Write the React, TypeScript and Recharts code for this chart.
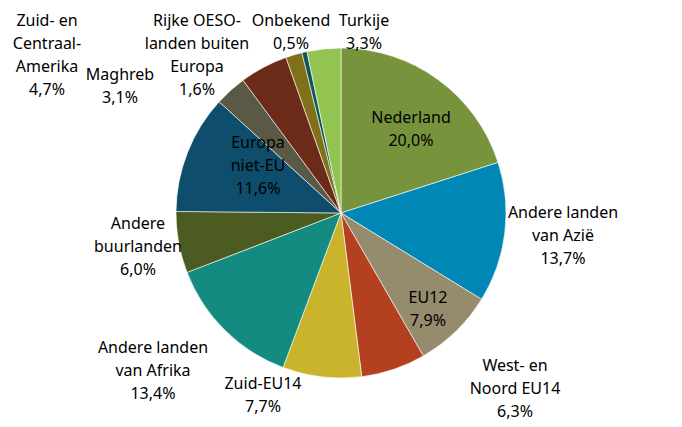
import React from 'react';
import { PieChart, Pie, Cell } from 'recharts';

// Herkomst (share in %), clockwise from the top
const labels = [
    ['Nederland'],
    ['Andere landen', 'van Azië'],
    ['EU12'],
    ['West- en', 'Noord EU14'],
    ['Zuid-EU14'],
    ['Andere landen', 'van Afrika'],
    ['Andere', 'buurlanden'],
    ['Europa', 'niet-EU'],
    ['Maghreb'],
    ['Zuid- en', 'Centraal-', 'Amerika'],
    ['Rijke OESO-', 'landen buiten', 'Europa'],
    ['Onbekend'],
    ['Turkije'],
];
const shares = [20.0, 13.7, 7.9, 6.3, 7.7, 13.4, 6.0, 11.6, 3.1, 4.7, 1.6, 0.5, 3.3];

const COLORS = [
    '#77933c', '#0087b5', '#958b6d', '#b3401f', '#c9b42b', '#148b81', '#4c5b1f',
    '#0e4d6b', '#5a5946', '#6c2a18', '#807017', '#0e5858', '#93c451',
];

// label block centre, relative to the pie centre (baseline of the first line)
const LABEL_POS: [number, number][] = [
    [70, -90], [222, 5], [87, 90], [174, 158], [-78, 176], [-188, 140], [-203, 16],
    [-83, -65], [-221, -133], [-294, -187], [-144, -187], [-50, -187], [23, -187],
];

const data = labels.map((l, i) => ({ name: l.join(' '), lines: l, value: shares[i] }));

const LINE_H = 23;

const renderLabel = (props: any) => {
    const { cx, cy, index } = props;
    const d = data[index];
    const [dx, dy] = LABEL_POS[index];
    const lines = [...d.lines, d.value.toFixed(1).replace('.', ',') + '%'];
    return (
        <text
            key={`lbl-${index}`}
            x={cx + dx}
            y={cy + dy}
            textAnchor="middle"
            fill="#000"
            style={{ fontFamily: '"Noto Sans", sans-serif', fontSize: 16 }}
        >
            {lines.map((t, i) => (
                <tspan key={i} x={cx + dx} dy={i === 0 ? 0 : LINE_H}>{t}</tspan>
            ))}
        </text>
    );
};

export default function App() {
    return (
        <div style={{ width: 682, height: 427, background: '#fff' }}>
            <style>{'body{margin:0}'}</style>
            <PieChart width={682} height={427} margin={{ top: 0, right: 0, bottom: 0, left: 0 }}>
                <Pie
                    data={data}
                    dataKey="value"
                    nameKey="name"
                    cx={341}
                    cy={213}
                    outerRadius={165}
                    startAngle={90}
                    endAngle={-270}
                    stroke="rgba(255,255,255,0.6)"
                    strokeWidth={1}
                    label={renderLabel}
                    labelLine={false}
                    isAnimationActive={false}
                >
                    {data.map((entry, index) => (
                        <Cell key={`cell-${index}`} fill={COLORS[index]} />
                    ))}
                </Pie>
            </PieChart>
        </div>
    );
}
